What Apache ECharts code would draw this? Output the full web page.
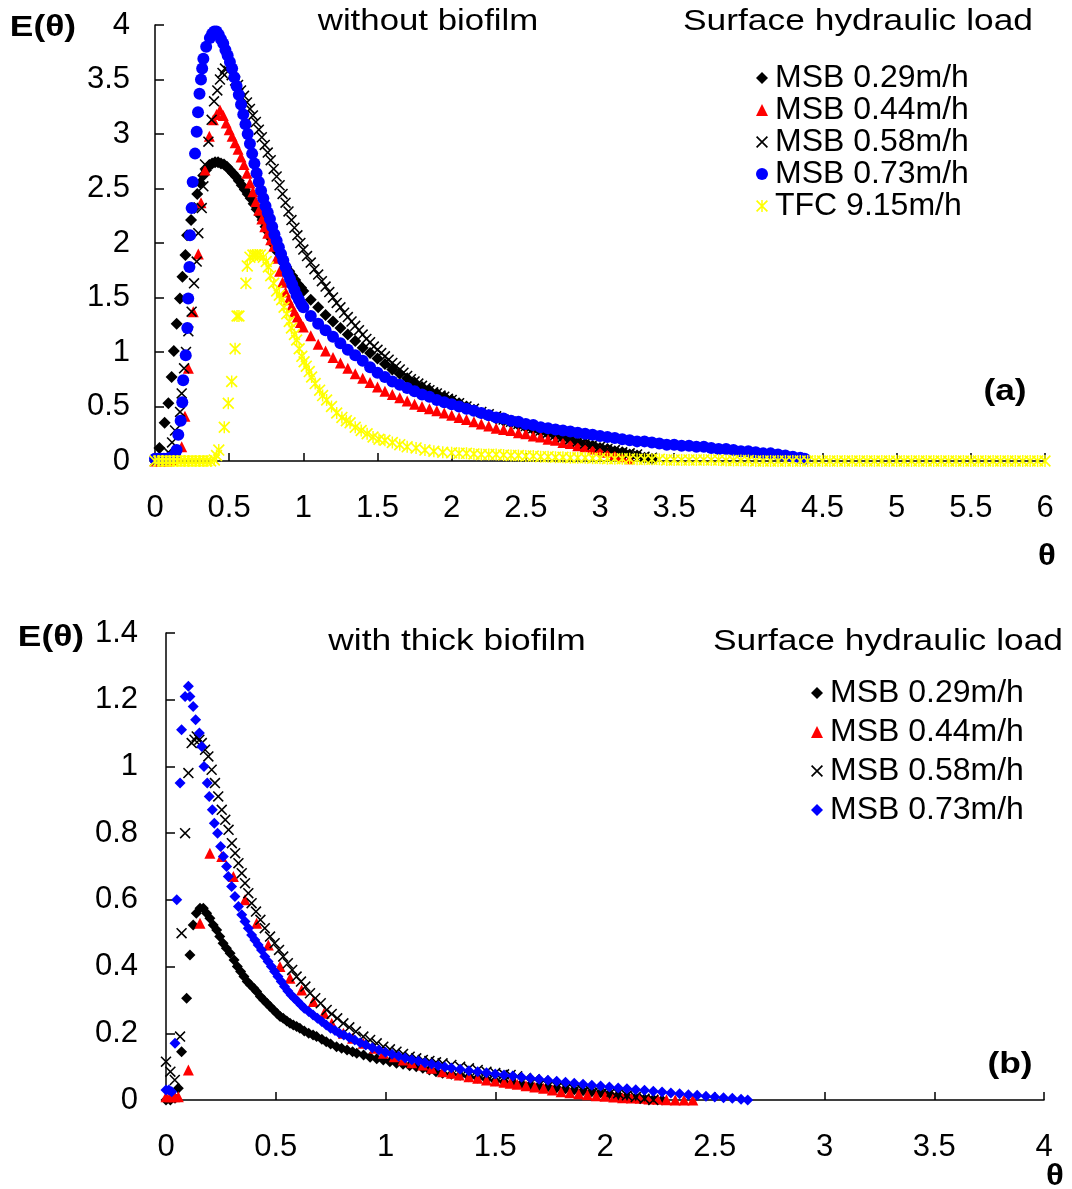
<!DOCTYPE html>
<html><head><meta charset="utf-8">
<script src="https://cdn.jsdelivr.net/npm/echarts@6/dist/echarts.min.js"></script>
<style>html,body{margin:0;padding:0;background:#fff}#c{width:1072px;height:1189px}</style>
</head><body><div id="c"></div>
<script>
// ---------- axes: [min, max, interval] ----------
const xTicksA = [0, 6, 0.5];
const yTicksA = [0, 4, 0.5];
const xTicksB = [0, 4, 0.5];
const yTicksB = [0, 1.4, 0.2];

const seriesNames = ["MSB 0.29m/h", "MSB 0.44m/h", "MSB 0.58m/h", "MSB 0.73m/h", "TFC 9.15m/h"];

// ---------- Panel (a): without biofilm ----------
const a029 = [[0,0],[0.03,0.12],[0.065,0.35],[0.09,0.53],[0.112,0.77],[0.127,1.01],[0.146,1.26],[0.168,1.49],[0.185,1.69],[0.205,1.89],[0.216,2.07],[0.243,2.21],[0.265,2.32],[0.285,2.45],[0.305,2.55],[0.325,2.62],[0.345,2.67],[0.365,2.71],[0.385,2.73],[0.405,2.74],[0.425,2.74],[0.445,2.73],[0.465,2.72],[0.485,2.70],[0.505,2.67],[0.525,2.64],[0.545,2.61],[0.565,2.57],[0.585,2.53],[0.605,2.49],[0.625,2.45],[0.645,2.41],[0.665,2.36],[0.685,2.31],[0.705,2.26],[0.725,2.21],[0.745,2.15],[0.765,2.10],[0.785,2.04],[0.805,1.98],[0.825,1.92],[0.845,1.87],[0.865,1.82],[0.885,1.78],[0.905,1.74],[0.925,1.70],[0.945,1.66],[0.965,1.62],[0.985,1.59],[1.0,1.56],[1.05,1.48],[1.1,1.41],[1.15,1.34],[1.2,1.28],[1.25,1.22],[1.3,1.16],[1.35,1.10],[1.4,1.04],[1.45,0.99],[1.5,0.94],[1.55,0.89],[1.6,0.84],[1.65,0.80],[1.7,0.76],[1.75,0.72],[1.8,0.68],[1.85,0.65],[1.9,0.62],[1.95,0.59],[2.0,0.56],[2.05,0.53],[2.1,0.50],[2.15,0.47],[2.2,0.44],[2.25,0.42],[2.3,0.39],[2.35,0.37],[2.4,0.35],[2.45,0.33],[2.5,0.31],[2.55,0.29],[2.6,0.27],[2.65,0.25],[2.7,0.23],[2.75,0.21],[2.8,0.19],[2.85,0.17],[2.9,0.16],[2.95,0.14],[3.0,0.12],[3.05,0.11],[3.1,0.09],[3.15,0.08],[3.2,0.06],[3.25,0.05],[3.3,0.03],[3.35,0.02]];

const a044 = [[0,0],[0.04,0],[0.08,0],[0.12,0.01],[0.15,0.03],[0.18,0.13],[0.202,0.41],[0.225,0.85],[0.258,1.37],[0.292,1.9],[0.31,2.37],[0.337,2.67],[0.366,2.98],[0.393,3.13],[0.415,3.18],[0.438,3.22],[0.46,3.17],[0.48,3.10],[0.50,3.04],[0.52,2.98],[0.54,2.92],[0.56,2.86],[0.58,2.79],[0.60,2.72],[0.62,2.64],[0.64,2.55],[0.66,2.47],[0.68,2.38],[0.70,2.30],[0.72,2.22],[0.74,2.15],[0.76,2.09],[0.78,2.03],[0.80,1.97],[0.82,1.86],[0.84,1.74],[0.86,1.64],[0.88,1.55],[0.90,1.48],[0.92,1.42],[0.94,1.37],[0.96,1.32],[0.98,1.27],[1.0,1.23],[1.05,1.15],[1.1,1.07],[1.15,1.01],[1.2,0.95],[1.25,0.90],[1.3,0.85],[1.35,0.80],[1.4,0.76],[1.45,0.72],[1.5,0.68],[1.55,0.64],[1.6,0.61],[1.65,0.58],[1.7,0.55],[1.75,0.52],[1.8,0.50],[1.85,0.48],[1.9,0.46],[1.95,0.44],[2.0,0.42],[2.05,0.40],[2.1,0.38],[2.15,0.36],[2.2,0.34],[2.25,0.32],[2.3,0.30],[2.35,0.29],[2.4,0.28],[2.45,0.26],[2.5,0.25],[2.55,0.23],[2.6,0.22],[2.65,0.20],[2.7,0.19],[2.75,0.17],[2.8,0.16],[2.85,0.14],[2.9,0.13],[2.95,0.11],[3.0,0.10],[3.05,0.08],[3.1,0.06],[3.15,0.04],[3.2,0.02]];

const a058 = [[0,0],[0.05,0.02],[0.09,0.08],[0.115,0.17],[0.135,0.28],[0.169,0.45],[0.18,0.62],[0.196,0.85],[0.209,1.0],[0.225,1.19],[0.247,1.37],[0.263,1.63],[0.281,1.83],[0.292,2.09],[0.315,2.32],[0.326,2.52],[0.337,2.72],[0.36,2.93],[0.382,3.13],[0.398,3.30],[0.42,3.40],[0.438,3.50],[0.455,3.56],[0.472,3.60],[0.495,3.58],[0.517,3.54],[0.54,3.49],[0.56,3.45],[0.58,3.40],[0.60,3.35],[0.62,3.29],[0.64,3.23],[0.66,3.17],[0.68,3.11],[0.70,3.04],[0.72,2.97],[0.74,2.90],[0.76,2.83],[0.78,2.76],[0.80,2.68],[0.82,2.61],[0.84,2.53],[0.86,2.45],[0.88,2.37],[0.90,2.29],[0.92,2.21],[0.94,2.14],[0.96,2.07],[0.98,2.00],[1.0,1.94],[1.025,1.88],[1.05,1.82],[1.075,1.76],[1.1,1.71],[1.125,1.65],[1.15,1.60],[1.175,1.55],[1.2,1.50],[1.225,1.45],[1.25,1.41],[1.275,1.36],[1.3,1.32],[1.325,1.28],[1.35,1.24],[1.375,1.20],[1.4,1.16],[1.425,1.12],[1.45,1.09],[1.475,1.05],[1.5,1.02],[1.525,0.99],[1.55,0.96],[1.575,0.93],[1.6,0.90],[1.625,0.87],[1.65,0.84],[1.675,0.81],[1.7,0.78],[1.725,0.75],[1.75,0.73],[1.775,0.71],[1.8,0.69],[1.825,0.67],[1.85,0.65],[1.875,0.63],[1.9,0.62],[1.925,0.60],[1.95,0.59],[1.975,0.57],[2.0,0.56],[2.05,0.53],[2.1,0.50],[2.15,0.48],[2.2,0.45],[2.25,0.43],[2.3,0.41],[2.35,0.38],[2.4,0.36],[2.45,0.34],[2.5,0.32],[2.55,0.30],[2.6,0.28],[2.65,0.26],[2.7,0.24],[2.75,0.22],[2.8,0.20],[2.85,0.18],[2.9,0.16],[2.95,0.15],[3.0,0.13],[3.05,0.11],[3.1,0.10],[3.15,0.08],[3.2,0.07],[3.25,0.06],[3.3,0.04],[3.35,0.03]];

const a073 = [[0,0.02],[0.02,0.02],[0.04,0.02],[0.06,0.02],[0.08,0.02],[0.1,0.03],[0.12,0.04],[0.135,0.06],[0.146,0.10],[0.157,0.24],[0.173,0.37],[0.184,0.54],[0.19,0.74],[0.207,0.97],[0.218,1.22],[0.224,1.49],[0.232,1.78],[0.236,2.07],[0.247,2.32],[0.254,2.56],[0.27,2.82],[0.281,3.02],[0.29,3.2],[0.3,3.37],[0.31,3.5],[0.318,3.6],[0.326,3.69],[0.345,3.80],[0.37,3.88],[0.385,3.92],[0.40,3.94],[0.415,3.94],[0.43,3.91],[0.445,3.87],[0.46,3.83],[0.475,3.77],[0.49,3.72],[0.505,3.66],[0.52,3.60],[0.535,3.52],[0.55,3.44],[0.565,3.36],[0.58,3.27],[0.595,3.18],[0.61,3.09],[0.625,3.00],[0.64,2.91],[0.655,2.82],[0.67,2.73],[0.685,2.64],[0.70,2.56],[0.715,2.48],[0.73,2.41],[0.745,2.34],[0.76,2.28],[0.775,2.22],[0.79,2.15],[0.805,2.08],[0.82,2.02],[0.835,1.96],[0.85,1.90],[0.865,1.84],[0.88,1.78],[0.895,1.72],[0.91,1.67],[0.925,1.62],[0.94,1.57],[0.955,1.52],[0.97,1.48],[0.985,1.44],[1.0,1.41],[1.05,1.33],[1.1,1.26],[1.15,1.20],[1.2,1.14],[1.25,1.08],[1.3,1.02],[1.35,0.97],[1.4,0.92],[1.45,0.86],[1.5,0.81],[1.55,0.77],[1.6,0.73],[1.65,0.70],[1.7,0.67],[1.75,0.64],[1.8,0.61],[1.85,0.59],[1.9,0.56],[1.95,0.54],[2.0,0.52],[2.05,0.50],[2.1,0.48],[2.15,0.46],[2.2,0.44],[2.25,0.42],[2.3,0.40],[2.35,0.39],[2.4,0.37],[2.45,0.36],[2.5,0.34],[2.55,0.33],[2.6,0.31],[2.65,0.30],[2.7,0.29],[2.75,0.28],[2.8,0.27],[2.85,0.26],[2.9,0.25],[2.95,0.24],[3.0,0.23],[3.05,0.22],[3.1,0.21],[3.15,0.20],[3.2,0.19],[3.25,0.18],[3.3,0.18],[3.35,0.17],[3.4,0.16],[3.45,0.15],[3.5,0.15],[3.55,0.14],[3.6,0.14],[3.65,0.13],[3.7,0.13],[3.75,0.12],[3.8,0.11],[3.85,0.11],[3.9,0.10],[3.95,0.09],[4.0,0.09],[4.05,0.08],[4.1,0.07],[4.15,0.07],[4.2,0.06],[4.25,0.05],[4.3,0.04],[4.35,0.03],[4.38,0.02]];

const aTFC = [[0,0],[0.025,0],[0.05,0],[0.075,0],[0.1,0],[0.125,0],[0.15,0],[0.175,0],[0.2,0],[0.225,0],[0.25,0],[0.275,0],[0.3,0],[0.325,0],[0.35,0],[0.375,0],[0.4,0.01],[0.415,0.05],[0.43,0.1],[0.467,0.31],[0.494,0.53],[0.517,0.73],[0.54,1.03],[0.553,1.33],[0.566,1.33],[0.613,1.63],[0.622,1.79],[0.64,1.87],[0.66,1.89],[0.675,1.89],[0.69,1.89],[0.71,1.89],[0.73,1.87],[0.75,1.83],[0.764,1.78],[0.78,1.70],[0.8,1.63],[0.82,1.56],[0.838,1.52],[0.854,1.48],[0.87,1.41],[0.888,1.35],[0.905,1.28],[0.92,1.22],[0.94,1.16],[0.955,1.11],[0.972,1.03],[0.99,0.96],[1.005,0.91],[1.02,0.87],[1.04,0.82],[1.056,0.77],[1.08,0.71],[1.11,0.65],[1.13,0.60],[1.157,0.56],[1.19,0.50],[1.225,0.44],[1.26,0.40],[1.29,0.37],[1.315,0.35],[1.35,0.31],[1.39,0.28],[1.43,0.25],[1.47,0.22],[1.51,0.20],[1.55,0.19],[1.6,0.17],[1.65,0.15],[1.7,0.13],[1.76,0.12],[1.82,0.10],[1.88,0.09],[1.94,0.08],[2.0,0.075],[2.05,0.07],[2.1,0.07],[2.15,0.065],[2.2,0.06],[2.25,0.06],[2.3,0.06],[2.35,0.055],[2.4,0.05],[2.45,0.05],[2.5,0.045],[2.55,0.045],[2.6,0.04],[2.65,0.04],[2.7,0.035],[2.75,0.035],[2.8,0.03],[2.85,0.03],[2.9,0.03],[2.95,0.025],[3.0,0.025],[3.05,0.02],[3.1,0.02],[3.15,0.02],[3.2,0.02],[3.25,0.015],[3.3,0.015],[3.35,0.015],[3.4,0.015],[3.45,0.01],[3.5,0.01],[3.55,0.01],[3.6,0.01],[3.65,0.01],[3.7,0.01],[3.75,0.01],[3.8,0.01],[3.85,0.005],[3.9,0.005],[3.95,0.005],[4.0,0.005],[4.05,0],[4.1,0],[4.15,0],[4.2,0],[4.25,0],[4.3,0],[4.35,0],[4.4,0],[4.45,0],[4.5,0],[4.55,0],[4.6,0],[4.65,0],[4.7,0],[4.75,0],[4.8,0],[4.85,0],[4.9,0],[4.95,0],[5.0,0],[5.05,0],[5.1,0],[5.15,0],[5.2,0],[5.25,0],[5.3,0],[5.35,0],[5.4,0],[5.45,0],[5.5,0],[5.55,0],[5.6,0],[5.65,0],[5.7,0],[5.75,0],[5.8,0],[5.85,0],[5.9,0],[5.95,0],[6.0,0]];

// ---------- Panel (b): with thick biofilm ----------
const b029 = [[0,0],[0.02,0],[0.041,0.005],[0.056,0.035],[0.071,0.145],[0.094,0.305],[0.109,0.435],[0.124,0.525],[0.138,0.56],[0.155,0.575],[0.17,0.575],[0.185,0.56],[0.2,0.545],[0.215,0.525],[0.231,0.51],[0.245,0.49],[0.26,0.47],[0.275,0.455],[0.292,0.44],[0.31,0.42],[0.325,0.40],[0.34,0.385],[0.355,0.37],[0.37,0.355],[0.385,0.345],[0.4,0.335],[0.413,0.325],[0.43,0.31],[0.445,0.30],[0.46,0.29],[0.474,0.28],[0.49,0.27],[0.505,0.26],[0.52,0.25],[0.534,0.245],[0.55,0.237],[0.565,0.23],[0.58,0.225],[0.595,0.22],[0.61,0.215],[0.63,0.207],[0.65,0.20],[0.67,0.195],[0.686,0.19],[0.71,0.182],[0.73,0.175],[0.75,0.168],[0.777,0.16],[0.8,0.155],[0.825,0.15],[0.85,0.145],[0.869,0.14],[0.9,0.135],[0.93,0.128],[0.96,0.124],[0.99,0.12],[1.02,0.115],[1.05,0.11],[1.08,0.107],[1.11,0.103],[1.14,0.10],[1.17,0.095],[1.2,0.09],[1.23,0.085],[1.26,0.08],[1.3,0.077],[1.34,0.074],[1.38,0.07],[1.42,0.066],[1.46,0.062],[1.5,0.058],[1.54,0.055],[1.58,0.052],[1.62,0.049],[1.66,0.046],[1.7,0.043],[1.74,0.04],[1.78,0.037],[1.82,0.034],[1.86,0.031],[1.9,0.028],[1.94,0.025],[1.98,0.022],[2.02,0.019],[2.06,0.015],[2.1,0.011],[2.14,0.007],[2.18,0.004],[2.22,0.002],[2.26,0]];

const b044 = [[0,0.01],[0.02,0.01],[0.04,0.01],[0.056,0.01],[0.102,0.09],[0.155,0.53],[0.2,0.74],[0.254,0.73],[0.307,0.67],[0.36,0.60],[0.413,0.53],[0.466,0.465],[0.519,0.40],[0.565,0.365],[0.618,0.33],[0.671,0.295],[0.72,0.26],[0.755,0.23],[0.808,0.20],[0.85,0.185],[0.899,0.17],[0.95,0.155],[0.99,0.14],[1.04,0.13],[1.08,0.12],[1.12,0.112],[1.17,0.105],[1.21,0.095],[1.26,0.085],[1.3,0.08],[1.336,0.075],[1.38,0.07],[1.42,0.065],[1.46,0.06],[1.5,0.057],[1.54,0.053],[1.568,0.05],[1.6,0.047],[1.64,0.043],[1.68,0.039],[1.72,0.035],[1.76,0.03],[1.8,0.025],[1.84,0.022],[1.88,0.019],[1.92,0.016],[1.96,0.013],[2.0,0.011],[2.04,0.009],[2.08,0.007],[2.12,0.006],[2.16,0.005],[2.2,0.003],[2.24,0.002],[2.28,0.001],[2.32,0],[2.36,0],[2.4,0]];

const b058 = [[0,0.115],[0.02,0.085],[0.04,0.06],[0.064,0.19],[0.071,0.5],[0.087,0.8],[0.102,0.98],[0.117,1.07],[0.13,1.08],[0.14,1.09],[0.152,1.08],[0.163,1.07],[0.178,1.05],[0.193,1.03],[0.208,0.99],[0.223,0.95],[0.238,0.91],[0.254,0.87],[0.27,0.84],[0.285,0.81],[0.3,0.77],[0.315,0.74],[0.33,0.71],[0.345,0.68],[0.36,0.65],[0.375,0.62],[0.39,0.59],[0.41,0.565],[0.43,0.54],[0.45,0.515],[0.474,0.49],[0.495,0.47],[0.515,0.45],[0.534,0.43],[0.555,0.41],[0.575,0.39],[0.595,0.37],[0.615,0.355],[0.635,0.34],[0.656,0.32],[0.68,0.305],[0.705,0.29],[0.732,0.27],[0.755,0.258],[0.78,0.245],[0.808,0.23],[0.835,0.218],[0.865,0.205],[0.899,0.19],[0.93,0.18],[0.96,0.17],[0.99,0.16],[1.02,0.152],[1.05,0.145],[1.08,0.138],[1.11,0.13],[1.14,0.125],[1.17,0.12],[1.2,0.117],[1.23,0.113],[1.26,0.11],[1.3,0.105],[1.34,0.10],[1.38,0.095],[1.42,0.09],[1.46,0.085],[1.5,0.081],[1.54,0.077],[1.57,0.075],[1.6,0.071],[1.64,0.066],[1.68,0.062],[1.72,0.058],[1.76,0.054],[1.8,0.05],[1.84,0.046],[1.88,0.041],[1.92,0.037],[1.96,0.033],[2.0,0.029],[2.03,0.025],[2.06,0.02],[2.1,0.014],[2.14,0.009],[2.18,0.004],[2.22,0]];

const b073 = [[0,0.03],[0.013,0.03],[0.026,0.025],[0.041,0.17],[0.049,0.60],[0.064,0.95],[0.071,1.11],[0.087,1.21],[0.102,1.24],[0.109,1.21],[0.124,1.18],[0.135,1.14],[0.152,1.10],[0.163,1.06],[0.173,1.00],[0.188,0.95],[0.197,0.91],[0.211,0.87],[0.22,0.83],[0.235,0.80],[0.249,0.76],[0.261,0.73],[0.276,0.70],[0.284,0.67],[0.299,0.64],[0.314,0.61],[0.33,0.58],[0.345,0.555],[0.36,0.535],[0.375,0.515],[0.39,0.495],[0.405,0.48],[0.42,0.465],[0.435,0.45],[0.45,0.43],[0.465,0.415],[0.48,0.40],[0.495,0.385],[0.51,0.37],[0.525,0.355],[0.54,0.34],[0.555,0.327],[0.57,0.315],[0.585,0.305],[0.6,0.295],[0.615,0.285],[0.63,0.275],[0.65,0.265],[0.67,0.255],[0.69,0.245],[0.71,0.235],[0.73,0.225],[0.75,0.215],[0.77,0.208],[0.79,0.20],[0.81,0.195],[0.835,0.187],[0.86,0.18],[0.885,0.172],[0.91,0.165],[0.94,0.157],[0.97,0.15],[1.0,0.143],[1.03,0.137],[1.06,0.131],[1.09,0.126],[1.12,0.121],[1.15,0.117],[1.18,0.112],[1.21,0.108],[1.24,0.103],[1.27,0.099],[1.3,0.096],[1.34,0.092],[1.38,0.088],[1.42,0.085],[1.46,0.082],[1.5,0.078],[1.54,0.075],[1.58,0.072],[1.62,0.068],[1.66,0.065],[1.7,0.062],[1.74,0.059],[1.78,0.056],[1.82,0.053],[1.86,0.05],[1.9,0.047],[1.94,0.044],[1.98,0.042],[2.02,0.039],[2.06,0.036],[2.1,0.034],[2.14,0.031],[2.18,0.029],[2.22,0.026],[2.26,0.024],[2.3,0.021],[2.34,0.019],[2.38,0.016],[2.42,0.014],[2.46,0.011],[2.5,0.009],[2.54,0.007],[2.58,0.005],[2.62,0.002],[2.65,0]];

// ---------- rendering ----------
const FONT = '"Liberation Sans", Arial, sans-serif';
const X_PATH = 'path://M0,1L1,0L10,9L9,10ZM9,0L10,1L1,10L0,9Z';
const STAR_PATH = 'path://M0,1L1,0L10,9L9,10ZM9,0L10,1L1,10L0,9ZM4.4,0L5.6,0L5.6,10L4.4,10Z';

const styleA = [
  {symbol:'diamond', color:'#000000', size:12},
  {symbol:'triangle', color:'#ff0000', size:11},
  {symbol:X_PATH, color:'#000000', size:11},
  {symbol:'circle', color:'#0000ff', size:12},
  {symbol:STAR_PATH, color:'#ffff00', size:12}
];
const styleB = [
  {symbol:'diamond', color:'#000000', size:11},
  {symbol:'triangle', color:'#ff0000', size:11},
  {symbol:X_PATH, color:'#000000', size:11},
  {symbol:'diamond', color:'#0000ff', size:11}
];

function mkSeries(name, data, st, idx){
  return {type:'scatter', name:name, data:data, xAxisIndex:idx, yAxisIndex:idx,
    symbol:st.symbol, symbolSize:st.size, itemStyle:{color:st.color, opacity:1},
    emphasis:{disabled:true}, silent:true, animation:false, large:false};
}
const dataA = [a029, a044, a058, a073, aTFC];
const dataB = [b029, b044, b058, b073];
const series = [];
dataA.forEach((d,i)=>series.push(mkSeries(seriesNames[i], d, styleA[i], 0)));
dataB.forEach((d,i)=>series.push(mkSeries(seriesNames[i], d, styleB[i], 1)));

function xAx(t, gi){
  return {type:'value', gridIndex:gi, min:t[0], max:t[1], interval:t[2],
    axisLine:{show:true, onZero:false, lineStyle:{color:'#000', width:1.5}},
    axisTick:{show:true, inside:true, length:8, lineStyle:{color:'#000', width:1.5}},
    axisLabel:{color:'#000', fontSize:31, fontFamily:FONT, margin:32},
    splitLine:{show:false}};
}
function yAx(t, gi, m){
  return {type:'value', gridIndex:gi, min:t[0], max:t[1], interval:t[2],
    axisLine:{show:true, onZero:false, lineStyle:{color:'#000', width:1.5}},
    axisTick:{show:true, inside:true, length:9, lineStyle:{color:'#000', width:1.5}},
    axisLabel:{color:'#000', fontSize:31, fontFamily:FONT, margin:m},
    splitLine:{show:false}};
}
function legendData(st, n){
  return seriesNames.slice(0,n).map((nm,i)=>({name:nm, icon:st[i].symbol, itemStyle:{color:st[i].color}}));
}
function txt(x,y,text,size,bold,sx){
  return {type:'text', x:x, y:y, scaleX:sx||1, silent:true,
    style:{text:text, font:(bold?'bold ':'')+size+'px '+FONT, fill:'#000', align:'center', verticalAlign:'middle'}};
}

const chart = echarts.init(document.getElementById('c'), null, {renderer:'canvas'});
chart.setOption({
  animation:false,
  backgroundColor:'#fff',
  grid:[
    {left:155, top:25, width:890, height:436},
    {left:166, top:633, width:878, height:467}
  ],
  xAxis:[xAx(xTicksA,0), xAx(xTicksB,1)],
  yAxis:[yAx(yTicksA,0,25), yAx(yTicksB,1,28)],
  legend:[
    {orient:'vertical', left:751, top:57, itemWidth:12, itemHeight:12, itemGap:0, selectedMode:false,
     textStyle:{fontSize:32, fontFamily:FONT, color:'#000', lineHeight:32, padding:[0,0,0,2]}, data:legendData(styleA,5)},
    {orient:'vertical', left:806, top:672, itemWidth:12, itemHeight:12, itemGap:7, selectedMode:false,
     textStyle:{fontSize:32, fontFamily:FONT, color:'#000', lineHeight:32, padding:[0,0,0,2]}, data:legendData(styleB,4)}
  ],
  graphic:[
    txt(43,28,'E(θ)',29,true,1.22),
    txt(428,22,'without biofilm',29,false,1.2),
    txt(858,22,'Surface hydraulic load',29,false,1.22),
    txt(1047,557,'θ',30,true,1.1),
    txt(1005,392,'(a)',29,true,1.22),
    txt(51,638,'E(θ)',29,true,1.22),
    txt(457,642,'with thick biofilm',29,false,1.22),
    txt(888,642,'Surface hydraulic load',29,false,1.22),
    txt(1055,1177,'θ',30,true,1.1),
    txt(1010,1065,'(b)',29,true,1.22)
  ],
  series:series
});
</script></body></html>
